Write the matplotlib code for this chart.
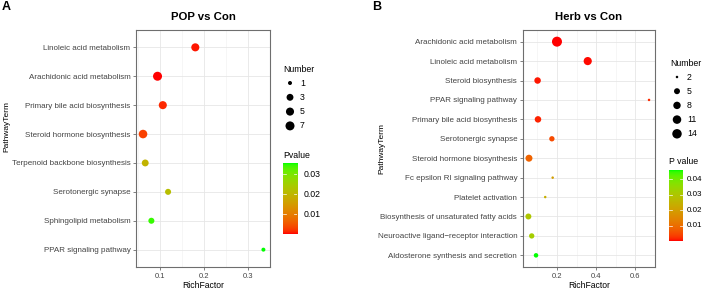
import numpy as np
import matplotlib
matplotlib.use("Agg")
import matplotlib.pyplot as plt
from matplotlib.colors import ListedColormap, Normalize

plt.rcParams['font.family'] = ['Liberation Sans', 'DejaVu Sans']

# panel A data: POP vs Con
pop_terms = ["Linoleic acid metabolism", "Arachidonic acid metabolism",
             "Primary bile acid biosynthesis", "Steroid hormone biosynthesis",
             "Terpenoid backbone biosynthesis", "Serotonergic synapse",
             "Sphingolipid metabolism", "PPAR signaling pathway"]
pop_rich = [0.180, 0.094, 0.106, 0.061, 0.066, 0.118, 0.080, 0.335]
pop_number = [5, 7, 5, 6, 3, 2, 2, 1]
pop_pvalue = [0.0008, 0.0003, 0.0015, 0.0030, 0.0195, 0.0215, 0.0345, 0.0355]
pop_size_breaks = [1, 3, 5, 7]
pop_p_ticks = [0.01, 0.02, 0.03]

# panel B data: Herb vs Con
herb_terms = ["Arachidonic acid metabolism", "Linoleic acid metabolism",
              "Steroid biosynthesis", "PPAR signaling pathway",
              "Primary bile acid biosynthesis", "Serotonergic synapse",
              "Steroid hormone biosynthesis", "Fc epsilon RI signaling pathway",
              "Platelet activation", "Biosynthesis of unsaturated fatty acids",
              "Neuroactive ligand\u2212receptor interaction",
              "Aldosterone synthesis and secretion"]
herb_rich = [0.200, 0.357, 0.101, 0.670, 0.103, 0.174, 0.057, 0.178, 0.140, 0.054, 0.071, 0.093]
herb_number = [16, 10, 6, 2, 6, 4, 7, 2, 2, 5, 4, 3]
herb_pvalue = [0.0003, 0.0005, 0.0010, 0.0020, 0.0015, 0.0050, 0.0085, 0.0200,
               0.0240, 0.0300, 0.0320, 0.0460]
herb_size_breaks = [2, 5, 8, 11, 14]
herb_p_ticks = [0.01, 0.02, 0.03, 0.04]


def lab_to_rgb(L, a, b):
    fy = (L + 16) / 116
    fx = fy + a / 500
    fz = fy - b / 200

    def finv(t):
        return np.where(t > 6 / 29, t ** 3, 3 * (6 / 29) ** 2 * (t - 4 / 29))
    X = 0.95047 * finv(fx)
    Y = finv(fy)
    Z = 1.08883 * finv(fz)
    r = 3.2406 * X - 1.5372 * Y - 0.4986 * Z
    g = -0.9689 * X + 1.8758 * Y + 0.0415 * Z
    bb = 0.0557 * X - 0.2040 * Y + 1.0570 * Z
    rgb = np.stack([r, g, bb], axis=-1)
    rgb = np.where(rgb <= 0.0031308, 12.92 * rgb, 1.055 * np.abs(rgb) ** (1 / 2.4) - 0.055)
    return np.clip(rgb, 0, 1)


# red -> green in Lab space like ggplot's scale_colour_gradient
t = np.linspace(0, 1, 256)
lab_red = np.array([53.2408, 80.0925, 67.2032])
lab_green = np.array([87.7347, -86.1827, 83.1793])
lab = lab_red[None, :] * (1 - t[:, None]) + lab_green[None, :] * t[:, None]
cmap = ListedColormap(lab_to_rgb(lab[:, 0], lab[:, 1], lab[:, 2]))

W, H = 705, 289
fig = plt.figure(figsize=(W / 100, H / 100), dpi=100)

SIZE_A = (1, 7, 4.0, 5.0)
SIZE_B = (2, 16, 2.5, 7.5)


def px_axes(x0, y0, x1, y1):
    return fig.add_axes([x0 / W, 1 - y1 / H, (x1 - x0) / W, (y1 - y0) / H])


def diam(n, nmin, nmax, a, b):
    n = np.asarray(n, dtype=float)
    return a + b * np.sqrt((n - nmin) / (nmax - nmin))


def panel(ax, terms, rich, number, pvals, xlim, xticks, minor, size_args, title):
    k = len(terms)
    ypos = np.arange(k)
    norm = Normalize(min(pvals), max(pvals))
    d = diam(number, *size_args)
    ax.scatter(rich, ypos, s=(d * 0.72) ** 2, c=cmap(norm(pvals)), linewidths=0, zorder=3)
    ax.set_xlim(*xlim)
    ax.set_ylim(k - 0.4, -0.6)
    ax.set_yticks(ypos)
    ax.set_yticklabels(terms, fontsize=5.8, color='#444444')
    ax.set_xticks(xticks)
    ax.set_xticklabels([f"{v:g}" for v in xticks], fontsize=5.5, color='#444444')
    ax.set_xticks(minor, minor=True)
    ax.grid(True, which='major', color='#e6e6e6', lw=0.6, zorder=0)
    ax.grid(True, which='minor', axis='x', color='#f0f0f0', lw=0.4, zorder=0)
    ax.tick_params(which='major', length=2.5, width=0.5, color='#4d4d4d', pad=1.5)
    ax.tick_params(which='minor', length=0)
    for sp in ax.spines.values():
        sp.set_color('#6e6e6e')
        sp.set_linewidth(0.8)
    ax.set_axisbelow(True)
    ax.set_xlabel("RichFactor", fontsize=6.2, labelpad=1)
    ax.set_title(title, fontsize=8.2, fontweight='bold', pad=7)
    return norm


axA = px_axes(136, 30, 270, 267)
normA = panel(axA, pop_terms, pop_rich, pop_number, pop_pvalue, (0.045, 0.35),
              [0.1, 0.2, 0.3], [0.05, 0.15, 0.25, 0.35], SIZE_A, "POP vs Con")
axB = px_axes(522.7, 30, 655.3, 267)
normB = panel(axB, herb_terms, herb_rich, herb_number, herb_pvalue, (0.025, 0.702),
              [0.2, 0.4, 0.6], [0.1, 0.3, 0.5, 0.7], SIZE_B, "Herb vs Con")

# overlay in pixel coordinates for labels and legends
ov = fig.add_axes([0, 0, 1, 1])
ov.set_xlim(0, W)
ov.set_ylim(H, 0)
ov.axis('off')

ov.text(2, 7, "A", fontsize=9, fontweight='bold', va='center', ha='left')
ov.text(372, 7, "B", fontsize=9, fontweight='bold', va='center', ha='left')
ov.text(7, 126, "PathwayTerm", fontsize=6, rotation=90, va='center', ha='center')
ov.text(382, 148, "PathwayTerm", fontsize=6, rotation=90, va='center', ha='center')


def size_legend(x, y0, dy, breaks, size_args, title):
    ov.text(x, y0 - 14, title, fontsize=6.3, va='center', ha='left')
    ys = y0 + dy * np.arange(len(breaks))
    d = diam(breaks, *size_args)
    ov.scatter(np.full(len(breaks), x + 7), ys, s=(d * 0.72) ** 2, c='black', linewidths=0)
    for yy, b in zip(ys, breaks):
        ov.text(x + 17, yy, str(b), fontsize=6.3, va='center', ha='left')


def color_legend(x, ytop, title, norm, ticks, fs=6.3, gap=1.5):
    ov.text(x, ytop - 8, title, fontsize=6.3, va='center', ha='left')
    cax = px_axes(x, ytop, x + 14, ytop + 71)
    grad = np.linspace(norm.vmin, norm.vmax, 200)[:, None]
    cax.imshow(grad, aspect='auto', cmap=cmap, norm=norm, origin='lower',
               extent=(0, 1, norm.vmin, norm.vmax))
    cax.set_xticks([])
    cax.set_yticks([])
    for sp in cax.spines.values():
        sp.set_visible(False)
    for tv in ticks:
        cax.plot([0, 0.2], [tv, tv], color='white', lw=0.5)
        cax.plot([0.8, 1], [tv, tv], color='white', lw=0.5)
        cax.text(gap, tv, f"{tv:g}", fontsize=fs, va='center', ha='left', clip_on=False)
    cax.set_xlim(0, 1)
    cax.set_ylim(norm.vmin, norm.vmax)


size_legend(283, 83, 14.3, pop_size_breaks, SIZE_A, "Number")
color_legend(283, 163, "Pvalue", normA, pop_p_ticks)
size_legend(670, 77, 14.2, herb_size_breaks, SIZE_B, "Number")
color_legend(669, 170, "P value", normB, herb_p_ticks, fs=5.8, gap=1.25)

fig.savefig("out.png", dpi=100)
